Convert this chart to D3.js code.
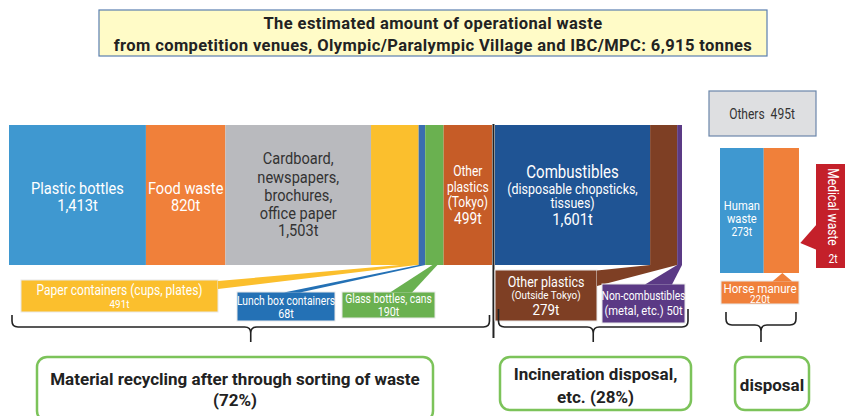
<!DOCTYPE html>
<html>
<head>
<meta charset="utf-8">
<script src="https://cdn.jsdelivr.net/npm/d3@7"></script>
<style>
body { margin: 0; background: #fff; }
text { font-family: Roboto, "Noto Sans", sans-serif; }
</style>
</head>
<body>
<script>
// data
var totalTonnes = 6915;
var recycleNames = ["Plastic bottles", "Food waste", "Cardboard, newspapers, brochures, office paper",
  "Paper containers (cups, plates)", "Lunch box containers", "Glass bottles, cans", "Other plastics (Tokyo)"];
var recycleValues = [1413, 820, 1503, 491, 68, 190, 499];
var incinNames = ["Combustibles (disposable chopsticks, tissues)", "Other plastics (Outside Tokyo)", "Non-combustibles (metal, etc.)"];
var incinValues = [1601, 279, 50];
var disposalNames = ["Human waste", "Horse manure", "Medical waste"];
var disposalValues = [273, 220, 2];
var othersValue = 495;
var groupNames = ["Material recycling after through sorting of waste", "Incineration disposal, etc.", "disposal"];
var groupShares = [72, 28];

var recycleColors = ["#3f98d0", "#f0803a", "#b9babe", "#fbbf2d", "#3a6eb0", "#6ab150", "#c65c27"];
var incinColors = ["#1f5494", "#7e3f24", "#5b3a85"];
var disposalColors = ["#3f98d0", "#f0803a", "#c4202a"];

var fmt = function(v){ return d3.format(",")(v) + "t"; };
var squeeze = 0.86;

var width = 845, height = 416;
var svg = d3.select("body").append("svg")
  .attr("width", width).attr("height", height);

// centred, horizontally squeezed multi-line text
function lines(cx, items, color, bold, sx){
  sx = sx || squeeze;
  var g = svg.append("g").attr("transform", "translate(" + cx + ",0) scale(" + sx + ",1)");
  var t = g.append("text").attr("text-anchor", "middle").attr("fill", color)
    .attr("font-weight", bold ? "bold" : null);
  items.forEach(function(it){
    t.append("tspan").attr("x", 0).attr("y", it[1]).attr("font-size", it[2]).text(it[0]);
  });
  return t;
}

// title
svg.append("rect").attr("x", 99).attr("y", 10).attr("width", 668).attr("height", 46)
  .attr("fill", "#fffbc7").attr("stroke", "#5a7fb0").attr("stroke-width", 1.2);
lines(433, [["The estimated amount of operational waste", 29, 16.5],
  ["from competition venues, Olympic/Paralympic Village and IBC/MPC: " + d3.format(",")(totalTonnes) + " tonnes", 51, 16.5]],
  "#222", true, 1).attr("letter-spacing", 0.4);

// main bar
var barTop = 125, barBottom = 265, gap = 3;
var recycleSum = d3.sum(recycleValues), incinSum = d3.sum(incinValues);
var x = d3.scaleLinear().domain([0, recycleSum + incinSum]).range([9, 682 - gap]);

function segs(values, colors, offset, shift){
  var cum = offset;
  return values.map(function(v, i){
    var s = { x0: x(cum) + shift, x1: x(cum + v) + shift, v: v, color: colors[i] };
    cum += v;
    s.mid = (s.x0 + s.x1) / 2;
    return s;
  });
}
var rec = segs(recycleValues, recycleColors, 0, 0);
var inc = segs(incinValues, incinColors, recycleSum, gap);
var allSegs = rec.concat(inc);

svg.selectAll("rect.seg").data(allSegs).enter().append("rect")
  .attr("class", "seg")
  .attr("x", function(d){ return d.x0; })
  .attr("y", barTop)
  .attr("width", function(d){ return d.x1 - d.x0; })
  .attr("height", barBottom - barTop)
  .attr("fill", function(d){ return d.color; });

var dividerX = x(recycleSum) + gap / 2;
svg.append("line").attr("x1", dividerX).attr("x2", dividerX).attr("y1", barTop - 1).attr("y2", 338)
  .attr("stroke", "#222").attr("stroke-width", 2);

// labels inside segments
lines(rec[0].mid, [["Plastic bottles", 194, 17], [fmt(recycleValues[0]), 211, 17]], "#fff");
lines(rec[1].mid, [["Food waste", 194, 17], [fmt(recycleValues[1]), 211, 17]], "#fff");
lines(rec[2].mid, [["Cardboard,", 164, 17], ["newspapers,", 183, 17], ["brochures,", 201, 17],
  ["office paper", 219, 17], [fmt(recycleValues[2]), 236, 17]], "#333");
lines(rec[6].mid, [["Other", 176, 14], ["plastics", 192, 14], ["(Tokyo)", 207, 14], [fmt(recycleValues[6]), 224, 16]], "#fff");
lines(inc[0].mid, [["Combustibles", 178, 17.5], ["(disposable chopsticks,", 194, 14.5], ["tissues)", 208, 14.5],
  [fmt(incinValues[0]), 225, 17]], "#fff");

// callouts
function callout(box, color, wedge, items){
  svg.append("rect").attr("x", box[0]).attr("y", box[1]).attr("width", box[2]).attr("height", box[3])
    .attr("fill", color).attr("stroke", "#e8e8e8").attr("stroke-width", 1);
  svg.append("polygon").attr("points", wedge.map(function(p){ return p.join(","); }).join(" "))
    .attr("fill", color);
  lines(box[0] + box[2] / 2, items, "#fff");
}
var p = rec[3];
callout([21, 280, 197, 32], p.color,
  [[p.x0 + (p.x1 - p.x0) * 0.6, barBottom], [p.x1 - 2, barBottom], [218, 289], [218, 281]],
  [["Paper containers (cups, plates)", 295.5, 14], [fmt(recycleValues[3]), 308, 11.5]]);
p = rec[4];
callout([237, 292, 98, 29], "#2471b5",
  [[p.x0, barBottom], [p.x1, barBottom], [300, 292.5], [284, 292.5]],
  [["Lunch box containers", 305, 12], [fmt(recycleValues[4]), 318.5, 12.5]]);
p = rec[5];
callout([342, 292, 93, 26], p.color,
  [[p.mid - 2, barBottom], [p.mid + 3, barBottom], [412, 292.5], [390, 292.5]],
  [["Glass bottles, cans", 303, 12], [fmt(recycleValues[5]), 316, 12.5]]);
p = inc[1];
callout([495, 270, 102, 51], p.color,
  [[p.x0, barBottom], [p.x1, barBottom], [597, 286], [597, 270.5]],
  [["Other plastics", 287.5, 14.5], ["(Outside Tokyo)", 299.5, 11.5], [fmt(incinValues[1]), 315, 15.5]]);
p = inc[2];
callout([602, 284, 83, 39], p.color,
  [[p.x0, barBottom], [p.x1, barBottom], [672, 284.5], [645, 284.5]],
  [["Non-combustibles", 300.5, 12], ["(metal, etc.) " + fmt(incinValues[2]), 315, 13]]);

// others (disposal)
svg.append("rect").attr("x", 709).attr("y", 91).attr("width", 107).attr("height", 45)
  .attr("fill", "#dedfe1").attr("stroke", "#6b86aa").attr("stroke-width", 1.2);
lines(762, [["Others\u00a0 " + fmt(othersValue), 119, 14]], "#333");

var dTop = 148, dBottom = 273;
var xd = d3.scaleLinear().domain([0, d3.sum(disposalValues)]).range([720, 799.3]);
var cum = 0;
var dis = disposalValues.map(function(v, i){
  var s = { x0: xd(cum), x1: xd(cum + v), color: disposalColors[i] };
  cum += v; s.mid = (s.x0 + s.x1) / 2;
  return s;
});
svg.selectAll("rect.dis").data(dis.slice(0, 2)).enter().append("rect")
  .attr("class", "dis")
  .attr("x", function(d){ return d.x0; })
  .attr("y", dTop)
  .attr("width", function(d){ return d.x1 - d.x0; })
  .attr("height", dBottom - dTop)
  .attr("fill", function(d){ return d.color; });
lines(dis[0].mid, [["Human", 210, 13], ["waste", 223, 13], [fmt(disposalValues[0]), 236, 12]], "#fff");

// horse manure callout
p = dis[1];
callout([721, 281, 78, 23], p.color,
  [[p.mid + 1, dBottom], [p.mid + 11, 281.5], [p.mid - 9, 281.5]],
  [["Horse manure", 293.5, 13.5], [fmt(disposalValues[1]), 303.5, 11.5]]);

// medical waste callout
p = dis[2];
svg.append("rect").attr("x", 816).attr("y", 164).attr("width", 35).attr("height", 104).attr("fill", p.color);
svg.append("polygon").attr("points", [[817, 224], [p.x1 + 1, 243], [817, 250]].map(function(q){ return q.join(","); }).join(" "))
  .attr("fill", p.color);
svg.append("text").attr("transform", "translate(828,207) rotate(90) scale(" + squeeze + ",1)").attr("text-anchor", "middle")
  .attr("font-size", 14).attr("fill", "#fff").text("Medical waste");
lines(833, [[fmt(disposalValues[2]), 263.5, 12]], "#fff");

// brackets
function bracket(x1, x2, top, base, tip){
  var cx = (x1 + x2) / 2, r = 6;
  var path = "M" + x1 + "," + top + " L" + x1 + "," + (base - r) +
    " Q" + x1 + "," + base + " " + (x1 + r) + "," + base +
    " L" + (cx - r) + "," + base + " Q" + cx + "," + base + " " + cx + "," + (base + r) +
    " L" + cx + "," + tip +
    " M" + cx + "," + (base + r) + " Q" + cx + "," + base + " " + (cx + r) + "," + base +
    " L" + (x2 - r) + "," + base + " Q" + x2 + "," + base + " " + x2 + "," + (base - r) +
    " L" + x2 + "," + top;
  svg.append("path").attr("d", path).attr("fill", "none").attr("stroke", "#222").attr("stroke-width", 1.6);
}
bracket(rec[0].x0 + 3, dividerX - 4, 315, 327, 342);
bracket(dividerX + 5, inc[2].x1 + 6, 309, 327, 342);
bracket(dis[0].x0 + 6, dis[1].x1 - 3, 312, 325, 342);

// group boxes
function groupBox(bx, by, bw, bh, items){
  svg.append("rect").attr("x", bx).attr("y", by).attr("width", bw).attr("height", bh)
    .attr("rx", 10).attr("fill", "#fff").attr("stroke", "#7cc35a").attr("stroke-width", 2.5);
  lines(bx + bw / 2, items.map(function(it){ return [it[0], it[1], 17]; }), "#222", true, 1);
}
groupBox(37, 357, 396, 64, [[groupNames[0], 385], ["(" + groupShares[0] + "%)", 406]]);
groupBox(500, 357, 191, 53, [["Incineration disposal,", 380], ["etc. (" + groupShares[1] + "%)", 403]]);
groupBox(735, 357, 74, 53, [[groupNames[2], 391]]);
</script>
</body>
</html>
